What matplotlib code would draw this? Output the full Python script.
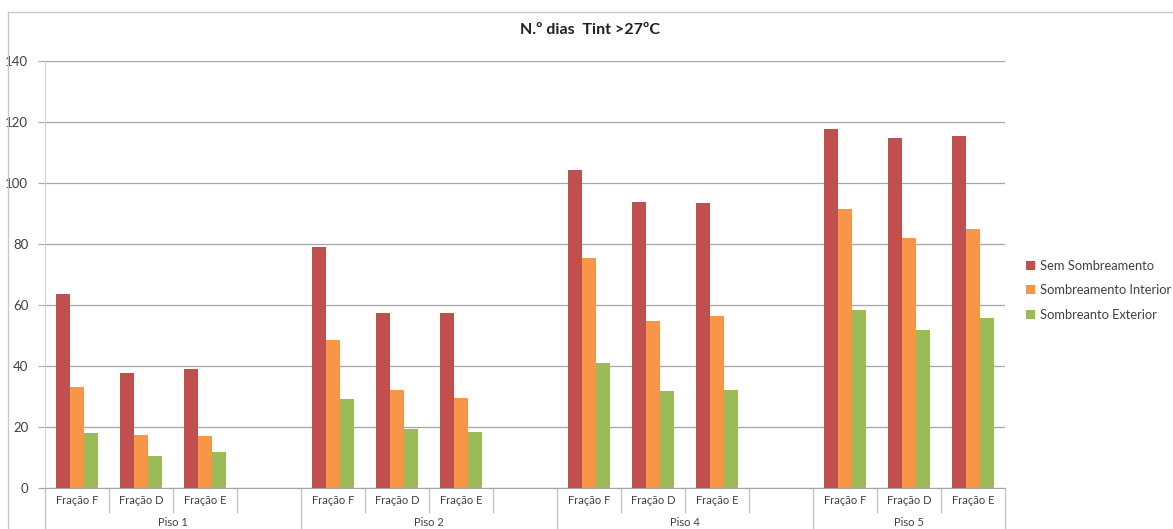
import matplotlib
matplotlib.use('Agg')
import matplotlib.pyplot as plt
from matplotlib.lines import Line2D
import numpy as np

# ── Data ──
PISOS     = ["Piso 1", "Piso 2", "Piso 4", "Piso 5"]
FRACOES   = ["Fração F", "Fração D", "Fração E"]
SERIES    = ["Sem Sombreamento", "Sombreamento Interior", "Sombreanto Exterior"]

SEM_SOMB  = [63.6, 37.7, 39.0,  79.0, 57.4, 57.4,  104.3, 93.8, 93.4,  117.7, 114.8, 115.4]
SOMB_INT  = [33.1, 17.4, 17.0,  48.5, 32.1, 29.5,   75.4, 54.8, 56.4,   91.5,  82.0,  85.0]
SOMB_EXT  = [18.0, 10.5, 11.8,  29.2, 19.3, 18.4,   41.0, 31.8, 32.1,   58.4,  51.8,  55.7]

COLORS = ["#C0504D", "#F79646", "#9BBB59"]

W, H = 1173, 529
fig = plt.figure(figsize=(W / 100, H / 100), dpi=100)

def fx(px):
    return px / W

def fy(py):
    return 1 - py / H

ax = fig.add_axes([fx(45), fy(488), fx(1005) - fx(45), fy(61) - fy(488)])

# slot positions: 4 slots per piso (last one empty), last piso only 3
slots = []
for g in range(len(PISOS)):
    for k in range(len(FRACOES)):
        slots.append(4 * g + k)
slots = np.array(slots, dtype=float)
n_slots = 4 * (len(PISOS) - 1) + 3

bw = 1 / 4.5
for i, (vals, col, lab) in enumerate(zip([SEM_SOMB, SOMB_INT, SOMB_EXT], COLORS, SERIES)):
    ax.bar(slots + (i - 1) * bw, vals, width=bw, color=col, label=lab, zorder=3)

ax.set_xlim(-0.5, n_slots - 0.5)
ax.set_ylim(0, 140)
ax.set_yticks(range(0, 141, 20))
ax.yaxis.grid(True, color="#A6A6A6", linewidth=0.9, zorder=0)
ax.set_xticks([])
for s in ["top", "right"]:
    ax.spines[s].set_visible(False)
ax.spines["left"].set_color("#D0D0D0")
ax.spines["bottom"].set_color("#A6A6A6")
ax.tick_params(axis="y", length=5, color="#A6A6A6", pad=7, labelsize=9.5,
               labelcolor="#404040")
for t in ax.get_yticklabels():
    t.set_fontfamily("Lato")

# multi-level category axis
trans = ax.get_xaxis_transform()
sep = "#BFBFBF"
for b in np.arange(-0.5, n_slots, 1.0):
    group_edge = (b + 0.5) % 4 == 0 or b == n_slots - 0.5
    y_end = -0.2 if group_edge else -24 / 427
    ax.add_line(Line2D([b, b], [0, y_end], transform=trans, color=sep,
                       linewidth=0.9, clip_on=False))
for g, piso in enumerate(PISOS):
    for k, fr in enumerate(FRACOES):
        ax.text(4 * g + k, -12 / 427, fr, transform=trans, ha="center", va="center",
                fontsize=8, color="#404040", family="Lato")
    n = 3 if g == len(PISOS) - 1 else 4
    center = 4 * g + (n - 1) / 2
    ax.text(center, -29 / 427, piso, transform=trans, ha="center", va="top",
            fontsize=8, color="#404040", family="Lato")

# title
fig.text(fx(590), fy(30), "N.º dias  Tint >27ºC", ha="center", va="center",
         fontsize=11.5, fontweight="bold", family="Lato", color="#202020")

# legend
aw = fx(1005) - fx(45)
ah = fy(61) - fy(488)
leg = ax.legend(loc="upper left",
                bbox_to_anchor=((fx(1021) - fx(45)) / aw, (fy(255) - fy(488)) / ah),
                frameon=False, prop={"family": "Lato", "size": 9.3},
                handlelength=0.7, handleheight=0.7, handletextpad=0.35,
                labelspacing=0.95, borderaxespad=0)
for t in leg.get_texts():
    t.set_color("#404040")

# chart border
fig.add_artist(Line2D([fx(8), fx(8)], [fy(12), 0], color="#C8C8C8", linewidth=1))
fig.add_artist(Line2D([fx(8), 1], [fy(12), fy(12)], color="#C8C8C8", linewidth=1))

fig.savefig("out.png", dpi=100)
plt.close(fig)
